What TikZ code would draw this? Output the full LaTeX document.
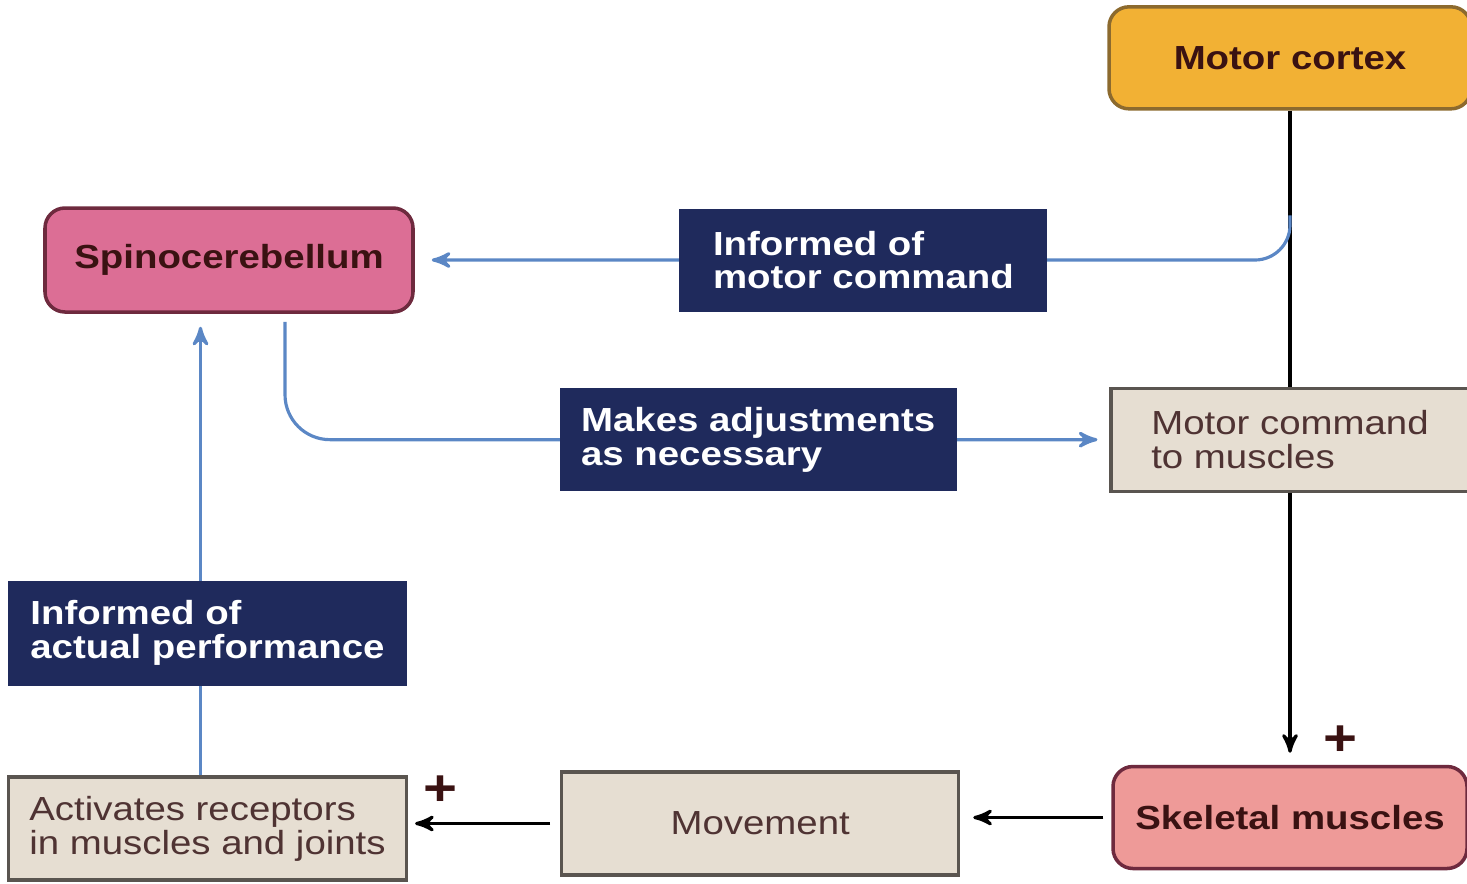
\documentclass[tikz,border=0pt]{standalone}
\usepackage{fontspec}
\setmainfont{Liberation Sans}[FakeStretch=1.15]
\usepackage{xcolor}
\usepackage{tikz}
\usetikzlibrary{arrows, positioning, calc}

\definecolor{cortexfill}{HTML}{F2B134}
\definecolor{cortexline}{HTML}{8C6A2E}
\definecolor{spinofill}{HTML}{DC6E95}
\definecolor{spinoline}{HTML}{6E2A3E}
\definecolor{skelfill}{HTML}{EE9A98}
\definecolor{navybox}{HTML}{1F2A5C}
\definecolor{beigebox}{HTML}{E6DED2}
\definecolor{beigeline}{HTML}{5A5550}
\definecolor{feedblue}{HTML}{5B87C5}
\definecolor{darktext}{HTML}{3A1212}

\begin{document}
\begin{tikzpicture}[node distance=2.75cm and 1.5cm, >=stealth',
    every node/.style={font=\fontsize{9.5}{9.6}\selectfont}]
    \tikzstyle{center} = [rectangle, rounded corners=0.2cm, minimum height=1.02cm, text centered, line width=1pt, font=\fontsize{9.5}{9.6}\selectfont\bfseries, text=darktext]
    \tikzstyle{label} = [rectangle, minimum height=1.03cm, align=left, fill=navybox, text=white, font=\fontsize{9.5}{9.6}\selectfont\bfseries]
    \tikzstyle{stage} = [rectangle, minimum height=1.03cm, draw=beigeline, fill=beigebox, line width=0.9pt, text=darktext!70!gray]
    \tikzstyle{arrow} = [line width=0.9pt,->]
    \tikzstyle{feedback} = [line width=0.9pt,->,draw=feedblue]

    \useasboundingbox (0,0) rectangle (14.67,-8.83);

    \node (skel) [center, draw=spinoline, fill=skelfill, minimum width=3.54cm] at (12.90,-8.175) {Skeletal muscles};
    \node (mcmd) [stage, above=2.72cm of skel, minimum width=3.58cm, align=left] {Motor command\\to muscles};
    \node (cortex) [center, draw=cortexline, fill=cortexfill, minimum width=3.62cm, above=2.76cm of mcmd] {Motor cortex};
    \node (move) [stage, minimum width=3.97cm, align=center, left=1.51cm of skel, yshift=-0.06cm] {Movement};
    \node (act) [stage, minimum width=3.98cm, align=left, left=1.52cm of move, yshift=-0.05cm] {Activates receptors\\in muscles and joints};
    \node (spino) [center, draw=spinoline, fill=spinofill, minimum width=3.68cm, minimum height=1.04cm] at (2.29,-2.60) {Spinocerebellum};

    \coordinate (branch) at ($(cortex.south)!0.38!(mcmd.north)$);
    \coordinate (upfoot) at ([xshift=-0.07cm]act.north);

    \draw [line width=0.9pt] (cortex.south) -- (mcmd.north);
    \draw [arrow, shorten >=0.12cm] (mcmd.south) -- (skel.north);
    \draw [arrow, shorten <=0.08cm, shorten >=0.13cm] (skel.west) -- (skel.west -| move.east);
    \draw [arrow, shorten <=0.1cm, shorten >=0.07cm] (move.west) -- (move.west -| act.east);
    \draw [feedback, rounded corners=0.35cm, shorten >=0.17cm] (branch) |- (spino.east);
    \draw [feedback, rounded corners=0.45cm, shorten <=0.08cm, shorten >=0.12cm] ([xshift=0.56cm]spino.south) |- (mcmd.west);
    \draw [feedback, shorten >=0.13cm] (upfoot) -- (upfoot |- spino.south);

    \node (infcmd) [label, minimum width=3.68cm, right=2.64cm of spino] {Informed of\\motor command};
    \node (adjust) [label, minimum width=3.97cm, left=1.52cm of mcmd] {Makes adjustments\\as necessary};
    \node (infact) [label, minimum width=3.98cm, minimum height=1.05cm, above=0.89cm of act] {Informed of\\actual performance};

    \node (plusskel) [font=\Large\bfseries, text=darktext] at ([xshift=0.5cm,yshift=0.245cm]skel.north) {+};
    \node (plusact) [font=\Large\bfseries, text=darktext] at ([xshift=0.32cm,yshift=0.38cm]act.east) {+};
\end{tikzpicture}
\end{document}
